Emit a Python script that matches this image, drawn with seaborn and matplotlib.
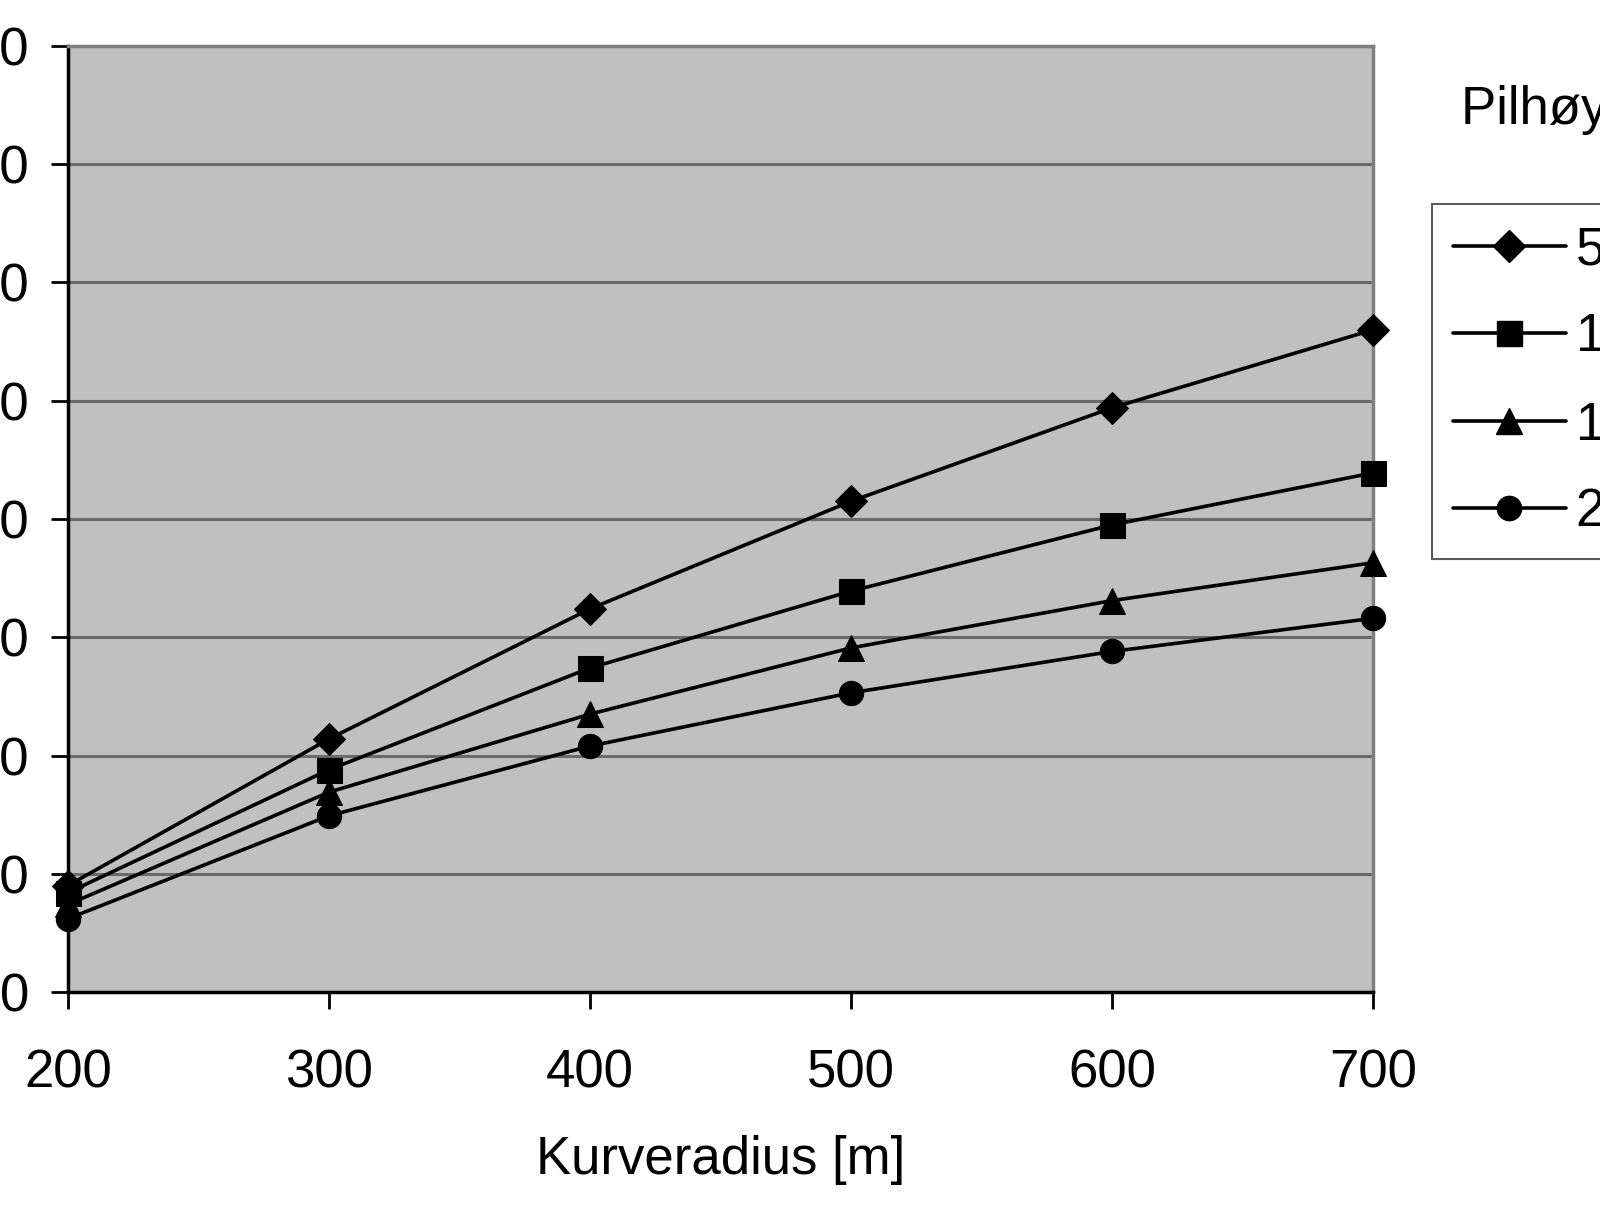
import matplotlib
matplotlib.use("Agg")
import matplotlib.pyplot as plt
import seaborn as sns
import pandas as pd
from matplotlib.lines import Line2D

radius = [200, 300, 400, 500, 600, 700]
series_labels = ["5 cm", "10 cm", "15 cm", "20 cm"]
vals_5 = [9.0, 21.4, 32.4, 41.5, 49.4, 56.0]
vals_10 = [8.4, 18.8, 27.4, 33.9, 39.5, 43.9]
vals_15 = [7.4, 16.9, 23.5, 29.1, 33.1, 36.3]
vals_20 = [6.2, 14.9, 20.8, 25.3, 28.8, 31.6]
y_ticks = [0, 10, 20, 30, 40, 50, 60, 70, 80]
x_ticks = [200, 300, 400, 500, 600, 700]

rows = []
for lab, vals in zip(series_labels, [vals_5, vals_10, vals_15, vals_20]):
    for r, v in zip(radius, vals):
        rows.append({"Kurveradius": r, "verdi": v, "Pilhøyde": lab})
df = pd.DataFrame(rows)

sns.set_style("white")
plt.rcParams['font.family'] = ['Liberation Sans', 'DejaVu Sans']
plt.rcParams['text.color'] = 'black'
plt.rcParams['xtick.color'] = 'black'
plt.rcParams['ytick.color'] = 'black'
plt.rcParams['axes.labelcolor'] = 'black'

fig = plt.figure(figsize=(16, 12.32), dpi=100)
ax = fig.add_axes([68/1600, 1-992/1232, (1373-68)/1600, (992-46)/1232])
ax.set_facecolor("#c0c0c0")

markers = {"5 cm": "D", "10 cm": "s", "15 cm": "^", "20 cm": "o"}
msizes = {"5 cm": 16, "10 cm": 18, "15 cm": 19, "20 cm": 17.5}
palette = {k: "black" for k in series_labels}
sns.lineplot(data=df, x="Kurveradius", y="verdi", hue="Pilhøyde", style="Pilhøyde",
             markers=markers, dashes=False, palette=palette, ax=ax,
             linewidth=2.6, legend=False, clip_on=False, zorder=3)
for line, lab in zip(ax.get_lines(), series_labels):
    line.set_markersize(msizes[lab])
    line.set_markeredgecolor("black")
    line.set_markerfacecolor("black")

ax.set_xlim(200, 700)
ax.set_ylim(0, 80)
ax.set_xticks(x_ticks)
ax.set_yticks(y_ticks)
ax.set_xticklabels([str(t) for t in x_ticks])
ax.set_yticklabels([str(t) for t in y_ticks])
ax.yaxis.grid(True, color="#6a6a6a", linewidth=2.2, zorder=1)
ax.xaxis.grid(False)
ax.set_axisbelow(True)

ax.tick_params(axis="both", direction="out", length=12, width=2, color="black",
               labelsize=38, left=True, bottom=True)
ax.tick_params(axis="y", pad=16)
ax.tick_params(axis="x", pad=29)

for s in ["left", "bottom"]:
    ax.spines[s].set_color("black")
    ax.spines[s].set_linewidth(2.5)
for s in ["top", "right"]:
    ax.spines[s].set_color("#808080")
    ax.spines[s].set_linewidth(2.5)

ax.set_ylabel("")
ax.set_xlabel("Kurveradius [m]", fontsize=38)
ax.xaxis.set_label_coords(0.5, -(1160-992)/946)
ax.xaxis.label.set_va("center")

handles = [Line2D([0], [0], color="black", lw=2.6, marker=markers[k],
                  markersize=msizes[k]) for k in series_labels]
leg = fig.legend(handles, series_labels, loc="upper left",
                 bbox_to_anchor=(1432/1600, 1-204/1232), fontsize=38,
                 frameon=True, fancybox=False, handlelength=2.13, labelspacing=0.71,
                 borderpad=0.40, handletextpad=0.19, borderaxespad=0)
leg.get_frame().set_edgecolor("#333333")
leg.get_frame().set_linewidth(1.5)

fig.text(1461/1600, 1-110/1232, "Pilhøyde [cm]", fontsize=38, ha="left", va="center")

fig.savefig("out.png", dpi=100)
